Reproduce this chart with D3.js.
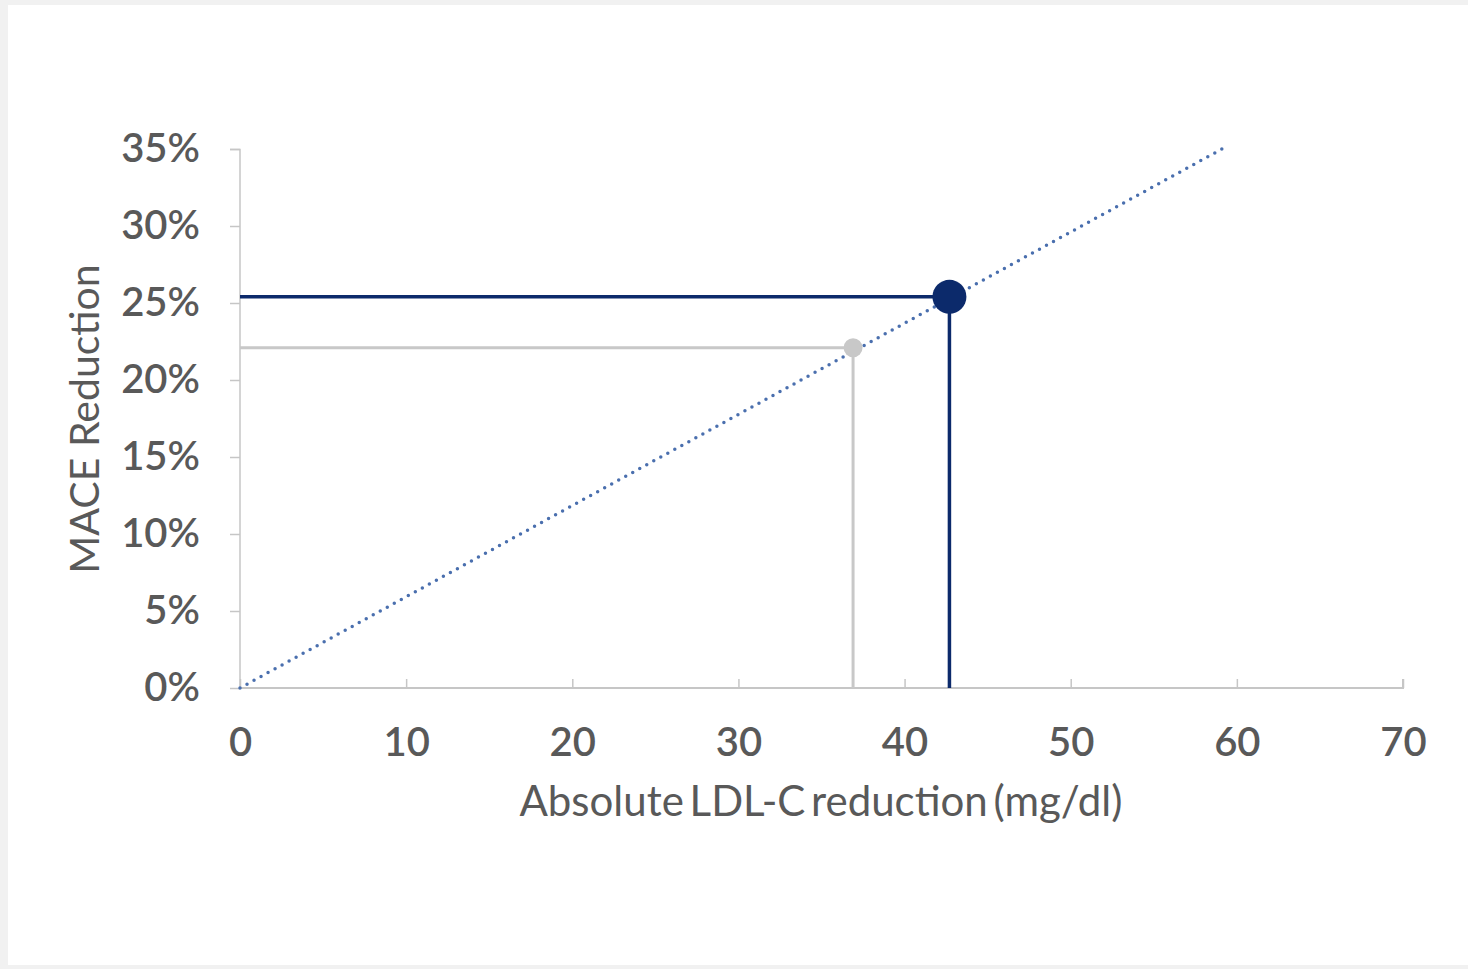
<!DOCTYPE html>
<html><head><meta charset="utf-8">
<script src="https://cdn.jsdelivr.net/npm/d3@7"></script>
<style>
html,body{margin:0;padding:0;background:#f1f1f1;}
svg{display:block;}
</style></head>
<body><svg id="c" width="1468" height="969"></svg>
<script>
const xTicks = [0,10,20,30,40,50,60,70];
const yTicks = [0,0.05,0.10,0.15,0.20,0.25,0.30,0.35];
const trendLine = [[0,0],[59.1,0.35]];
const points = [
  {name:"gray", x:36.9, y:0.221, color:"#c8c8c8", r:9.5},
  {name:"dark", x:42.7, y:0.254, color:"#0c2a6b", r:17}
];
const xTitle = "Absolute LDL-C reduction (mg/dl)";
const yTitle = "MACE Reduction";

const svg = d3.select("#c");
svg.append("rect").attr("x",8).attr("y",5).attr("width",1460).attr("height",960).attr("fill","#fff");

const x = d3.scaleLinear().domain([0,70]).range([240,1403]);
const y = d3.scaleLinear().domain([0,0.35]).range([688,149]);
const font = "Lato, 'Open Sans', sans-serif";
const txt = "#595959";

// y axis
const ya = svg.append("g").attr("transform","translate(240,0)")
  .call(d3.axisLeft(y).tickValues(yTicks).tickFormat(d3.format(".0%")).tickSize(10).tickPadding(30));
ya.select(".domain").attr("stroke","#c6c6c6").attr("stroke-width",1.5).attr("d","M-10,149.5H0V688");
ya.selectAll(".tick line").attr("stroke","#c6c6c6").attr("stroke-width",1.5);
ya.selectAll("text").attr("fill",txt).style("font-family",font).style("font-size","40px").style("font-weight","600");

// x axis
const xa = svg.append("g").attr("transform","translate(0,688)")
  .call(d3.axisBottom(x).tickValues(xTicks).tickSize(-9).tickPadding(54));
xa.select(".domain").attr("stroke","#c6c6c6").attr("stroke-width",2).attr("d","M240,0H1403V-9");
xa.selectAll(".tick line").attr("stroke","#c6c6c6").attr("stroke-width",1.5);
xa.selectAll("text").attr("fill",txt).style("font-family",font).style("font-size","40px").style("font-weight","600").attr("dy","0.35em");

// titles
svg.append("text").attr("x",821).attr("y",816).attr("text-anchor","middle")
  .attr("fill",txt).style("font-family",font).style("font-size","42px").style("word-spacing","-5px").text(xTitle);
svg.append("text").attr("transform","translate(99,419) rotate(-90)").attr("text-anchor","middle")
  .attr("fill",txt).style("font-family",font).style("font-size","41px").text(yTitle);

// reference lines (drop lines)
points.forEach(p=>{
  const sw = p.name==="dark"?3.5:3;
  svg.append("path").attr("fill","none").attr("stroke",p.color).attr("stroke-width",sw)
    .attr("d",`M${x(0)},${y(p.y)}H${x(p.x)}V${y(0)}`);
});

// dotted trend line
svg.append("line").attr("x1",x(trendLine[0][0])).attr("y1",y(trendLine[0][1]))
  .attr("x2",x(trendLine[1][0])).attr("y2",y(trendLine[1][1]))
  .attr("stroke","#4a6fae").attr("stroke-width",3.5).attr("stroke-dasharray","0 8").attr("stroke-linecap","round");

// points
points.forEach(p=>{
  svg.append("circle").attr("cx",x(p.x)).attr("cy",y(p.y)).attr("r",p.r).attr("fill",p.color);
});
</script></body></html>
